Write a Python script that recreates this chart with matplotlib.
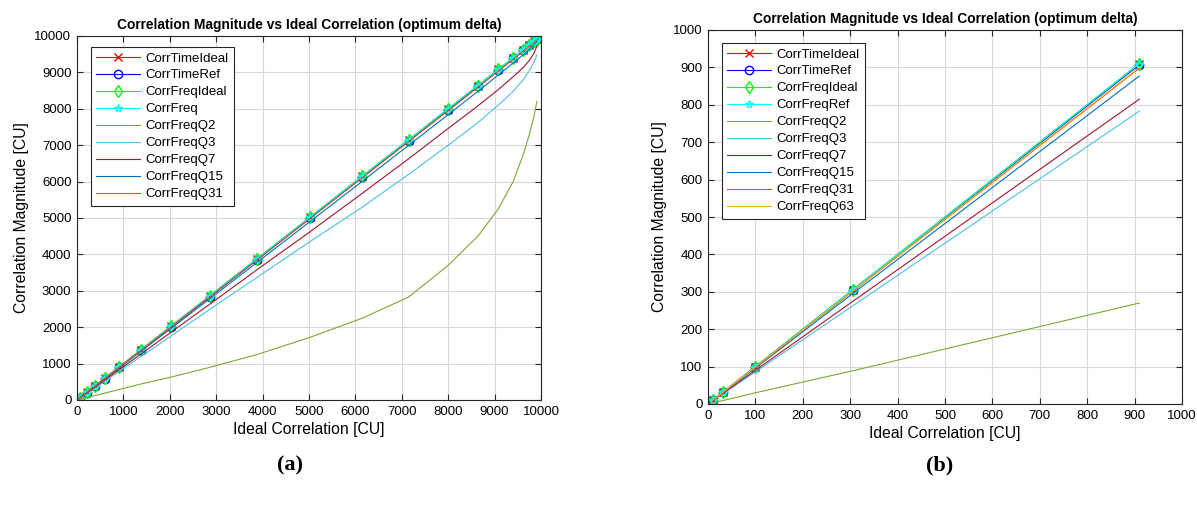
import numpy as np
import matplotlib.pyplot as plt

plt.rcParams['font.family'] = ['Liberation Sans', 'DejaVu Sans']

# MATLAB default line colours
c_blue = (0.0, 0.447, 0.741)
c_orange = (0.85, 0.325, 0.098)
c_yellow = (0.929, 0.694, 0.125)
c_green = (0.466, 0.674, 0.188)
c_lblue = (0.301, 0.745, 0.933)
c_dred = (0.635, 0.078, 0.184)

# ---- panel (a) data ----
xa = [0, 60, 210, 390, 600, 910, 1380, 2030, 2870, 3880, 5020, 6150, 7150,
      8000, 8640, 9080, 9400, 9620, 9750, 9850, 9910]
a_time_ideal = [0, 60, 210, 390, 600, 910, 1380, 2030, 2870, 3880, 5020, 6150, 7150,
                8000, 8640, 9080, 9400, 9620, 9750, 9850, 9910]
a_time_ref = [0, 58, 205, 382, 590, 895, 1360, 2005, 2840, 3850, 4990, 6120, 7120,
              7975, 8620, 9060, 9385, 9605, 9740, 9840, 9905]
a_freq_ideal = [0, 60, 210, 390, 600, 910, 1380, 2030, 2870, 3880, 5020, 6150, 7150,
                8000, 8640, 9080, 9400, 9620, 9750, 9850, 9910]
a_freq = [0, 60, 210, 390, 600, 910, 1380, 2030, 2870, 3880, 5020, 6150, 7150,
          8000, 8640, 9080, 9400, 9620, 9750, 9850, 9910]
a_q2 = [0, 20, 65, 125, 190, 290, 440, 630, 900, 1250, 1720, 2250, 2830,
        3700, 4500, 5250, 6000, 6750, 7300, 7800, 8200]
a_q3 = [0, 52, 182, 338, 520, 790, 1195, 1760, 2500, 3370, 4350, 5300, 6200,
        7000, 7620, 8100, 8480, 8800, 9050, 9280, 9480]
a_q7 = [0, 55, 192, 357, 550, 835, 1265, 1865, 2640, 3580, 4620, 5680, 6630,
        7460, 8080, 8530, 8880, 9140, 9330, 9530, 9720]
a_q15 = [0, 58, 203, 378, 582, 883, 1340, 1970, 2790, 3780, 4900, 6010, 7000,
         7840, 8480, 8930, 9260, 9490, 9640, 9760, 9850]
a_q31 = [0, 59, 208, 386, 594, 902, 1368, 2012, 2845, 3850, 4985, 6110, 7105,
         7950, 8590, 9035, 9360, 9585, 9720, 9825, 9895]

# ---- panel (b) data ----
xb = [10, 31, 100, 306, 910]
b_time_ideal = [10, 31, 100, 306, 910]
b_time_ref = [10, 31, 99, 304, 907]
b_freq_ideal = [10, 31, 100, 306, 910]
b_freq_ref = [10, 31, 100, 306, 910]
b_q2 = [3, 9, 30, 89, 270]
b_q3 = [8.6, 27, 86, 263, 783]
b_q7 = [9, 28, 90, 275, 815]
b_q15 = [9.7, 30, 96, 296, 877]
b_q31 = [9.9, 30.7, 99, 302, 898]
b_q63 = [9.9, 30.8, 99, 303, 900]

title = "Correlation Magnitude vs Ideal Correlation (optimum delta)"

fig = plt.figure(figsize=(11.97, 5.09), dpi=100)
W, H = 1197, 509
ax1 = fig.add_axes([77 / W, (H - 400) / H, 464 / W, 364 / H])
ax2 = fig.add_axes([708 / W, (H - 404) / H, 474 / W, 374 / H])


def style(ax, lim, step):
    ax.set_xlim(0, lim)
    ax.set_ylim(0, lim)
    ax.set_xticks(np.arange(0, lim + 1, step))
    ax.set_yticks(np.arange(0, lim + 1, step))
    ax.grid(True, color=(0.85, 0.85, 0.85), linewidth=0.8)
    ax.set_axisbelow(True)
    ax.tick_params(direction='in', top=True, right=True, labelsize=9.5,
                   color=(0.15, 0.15, 0.15), length=4, pad=4)
    for s in ax.spines.values():
        s.set_color((0.15, 0.15, 0.15))
        s.set_linewidth(0.8)
    ax.set_xlabel("Ideal Correlation [CU]", fontsize=11.3, labelpad=3)
    ax.set_ylabel("Correlation Magnitude [CU]", fontsize=11.3)
    ax.set_title(title, fontsize=9.9, fontweight='bold', pad=5)


mk = dict(markersize=6, linewidth=0.8, markerfacecolor='none')

# panel (a)
ax1.plot(xa, a_time_ideal, 'x-', color=(1, 0, 0), label='CorrTimeIdeal', **mk)
ax1.plot(xa, a_time_ref, 'o-', color=(0, 0, 1), label='CorrTimeRef', **mk)
ax1.plot(xa, a_freq_ideal, 'd-', color=(0, 1, 0), label='CorrFreqIdeal', **mk)
ax1.plot(xa, a_freq, '*-', color=(0, 1, 1), label='CorrFreq', **mk)
ax1.plot(xa, a_q2, '-', color=c_green, linewidth=0.8, label='CorrFreqQ2')
ax1.plot(xa, a_q3, '-', color=c_lblue, linewidth=0.8, label='CorrFreqQ3')
ax1.plot(xa, a_q7, '-', color=c_dred, linewidth=0.8, label='CorrFreqQ7')
ax1.plot(xa, a_q15, '-', color=c_blue, linewidth=0.8, label='CorrFreqQ15')
ax1.plot(xa, a_q31, '-', color=c_orange, linewidth=0.8, label='CorrFreqQ31')
style(ax1, 10000, 1000)

# panel (b)
ax2.plot(xb, b_time_ideal, 'x-', color=(1, 0, 0), label='CorrTimeIdeal', **mk)
ax2.plot(xb, b_time_ref, 'o-', color=(0, 0, 1), label='CorrTimeRef', **mk)
ax2.plot(xb, b_freq_ideal, 'd-', color=(0, 1, 0), label='CorrFreqIdeal', **mk)
ax2.plot(xb, b_freq_ref, '*-', color=(0, 1, 1), label='CorrFreqRef', **mk)
ax2.plot(xb, b_q2, '-', color=c_green, linewidth=0.8, label='CorrFreqQ2')
ax2.plot(xb, b_q3, '-', color=c_lblue, linewidth=0.8, label='CorrFreqQ3')
ax2.plot(xb, b_q7, '-', color=c_dred, linewidth=0.8, label='CorrFreqQ7')
ax2.plot(xb, b_q15, '-', color=c_blue, linewidth=0.8, label='CorrFreqQ15')
ax2.plot(xb, b_q31, '-', color=c_orange, linewidth=0.8, label='CorrFreqQ31')
ax2.plot(xb, b_q63, '-', color=c_yellow, linewidth=0.8, label='CorrFreqQ63')
style(ax2, 1000, 100)

for ax, anchor in ((ax1, ((91 - 77) / 464, (400 - 47) / 364)),
                   (ax2, ((722 - 708) / 474, (404 - 43) / 374))):
    leg = ax.legend(loc='upper left', bbox_to_anchor=anchor, borderaxespad=0,
                    fontsize=9.5, fancybox=False, framealpha=1,
                    edgecolor=(0.15, 0.15, 0.15), handlelength=3.3,
                    labelspacing=0.36, borderpad=0.4, handletextpad=0.4)
    leg.get_frame().set_linewidth(0.8)

fig.text(290 / W, 1 - 465 / H, "(a)", ha='center', va='center',
         fontsize=16, fontweight='bold', family='Liberation Serif')
fig.text(940 / W, 1 - 465 / H, "(b)", ha='center', va='center',
         fontsize=16, fontweight='bold', family='Liberation Serif')

fig.savefig("out.png", dpi=100, facecolor='white')
